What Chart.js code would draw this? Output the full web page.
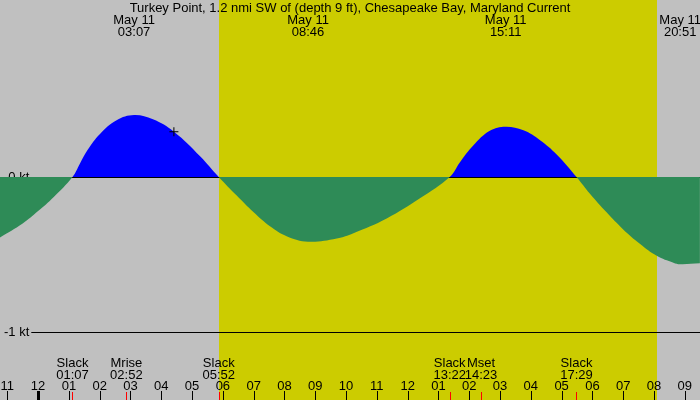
<!DOCTYPE html>
<html>
<head>
<meta charset="utf-8">
<script src="https://cdn.jsdelivr.net/npm/chart.js@4.4.1/dist/chart.umd.min.js"></script>
<style>
  html, body { margin: 0; padding: 0; background: #c0c0c0; }
  #wrap { width: 700px; height: 400px; }
</style>
</head>
<body>
<div id="wrap"><canvas id="currentChart"></canvas></div>
<script>
// ===================== Data =====================
const stationTitle = "Turkey Point, 1.2 nmi SW of (depth 9 ft), Chesapeake Bay, Maryland Current";

// hours after midnight May 11 (negative = evening of May 10)
const sampleHours = [-1.24, -0.5, 0.0, 0.5, 1.117, 1.36, 1.6, 2.01, 2.55, 3.117, 3.73, 4.41, 5.26, 5.867,
  6.45, 7.0, 7.53, 8.07, 8.767, 9.7, 10.24, 11.32, 12.4, 13.367,
  13.7, 14.13, 14.67, 15.183, 15.76, 16.3, 16.84, 17.483,
  17.92, 18.46, 19.0, 19.55, 20.09, 20.63, 20.85, 21.49];
const sampleKnots = [-0.39, -0.30, -0.22, -0.13, 0, 0.088, 0.172, 0.278, 0.366, 0.40, 0.372, 0.292, 0.134, 0,
  -0.12, -0.228, -0.318, -0.382, -0.417, -0.396, -0.362, -0.267, -0.137, 0,
  0.095, 0.203, 0.298, 0.325, 0.301, 0.237, 0.145, 0,
  -0.108, -0.228, -0.338, -0.432, -0.508, -0.553, -0.563, -0.557];

const extremeDate = "May 11";
const extremeTimes = ["03:07", "08:46", "15:11", "20:51"];

const eventNames = ["Slack", "Mrise", "Slack", "Slack", "Mset", "Slack"];
const eventTimes = ["01:07", "02:52", "05:52", "13:22", "14:23", "17:29"];

const sunRise = "05:52";
const sunSet = "20:06";

const markerHours = [4.41];
const markerKnots = [0.292];

const hourTicks = [-1, 0, 1, 2, 3, 4, 5, 6, 7, 8, 9, 10, 11, 12, 13, 14, 15, 16, 17, 18, 19, 20, 21];
const hourLabels = ["11", "12", "01", "02", "03", "04", "05", "06", "07", "08", "09", "10",
  "11", "12", "01", "02", "03", "04", "05", "06", "07", "08", "09"];

const knotTicks = [-1, 0];
const knotLabels = ["-1 kt", "0 kt"];

// ===================== Helpers =====================
const FONT = "13px 'Liberation Sans', Arial, sans-serif";

function toHours(hhmm) {
  const [h, m] = hhmm.split(":").map(Number);
  return h + m / 60;
}

// y axes must not steal room from the plot: it fills the whole canvas
function flatAxis(s) {
  s.width = 0;
  s.paddingTop = 0;
  s.paddingBottom = 0;
  s.paddingLeft = 0;
  s.paddingRight = 0;
}

// ===================== Background + Labels Plugin =====================
const tidePlugin = {
  id: "tidePlugin",
  beforeDraw(chart) {
    const { ctx, width, height } = chart;
    const x = chart.scales.x;
    ctx.save();
    ctx.fillStyle = "#c0c0c0";
    ctx.fillRect(0, 0, width, height);
    const x0 = Math.round(x.getPixelForValue(toHours(sunRise)));
    const x1 = Math.round(x.getPixelForValue(toHours(sunSet)));
    ctx.fillStyle = "#cccc00";
    ctx.fillRect(x0, 0, x1 - x0, height);
    ctx.restore();
  },
  afterDraw(chart) {
    const { ctx, width } = chart;
    const x = chart.scales.x;
    ctx.save();
    ctx.font = FONT;
    ctx.fillStyle = "#000";
    ctx.textAlign = "center";
    ctx.textBaseline = "alphabetic";

    ctx.fillText(stationTitle, width / 2, 12);

    extremeTimes.forEach((t) => {
      const px = x.getPixelForValue(toHours(t));
      ctx.fillText(extremeDate, px, 24);
      ctx.fillText(t, px, 36);
    });

    eventTimes.forEach((t, i) => {
      const px = x.getPixelForValue(toHours(t));
      ctx.fillText(eventNames[i], px, 367);
      ctx.fillText(t, px, 378.5);
      ctx.fillStyle = "#ff0000";
      ctx.fillRect(Math.round(px), 392, 1, 8);
      ctx.fillStyle = "#000";
    });

    hourTicks.forEach((h, i) => {
      const px = x.getPixelForValue(h);
      ctx.fillText(hourLabels[i], px, 390);
      const w = h === 0 ? 3 : 1;
      ctx.fillRect(Math.round(px) - (w - 1) / 2, 391, w, 9);
    });
    ctx.restore();
  }
};

// ===================== Chart Setup =====================
Chart.defaults.font.family = "'Liberation Sans', Arial, sans-serif";
Chart.defaults.font.size = 13;
Chart.defaults.color = "#000";

const currentPoints = sampleHours.map((h, i) => ({ x: h, y: sampleKnots[i] }));
const markerPoints = markerHours.map((h, i) => ({ x: h, y: markerKnots[i] }));

const ctx = document.getElementById("currentChart").getContext("2d");
new Chart(ctx, {
  type: "line",
  data: {
    datasets: [
      {
        label: "now",
        data: markerPoints,
        showLine: false,
        pointStyle: "cross",
        pointRadius: 4.5,
        borderColor: "#000",
        borderWidth: 1,
        order: 0,
      },
      {
        label: "Current (kt)",
        data: currentPoints,
        borderWidth: 0,
        pointRadius: 0,
        tension: 0.4,
        fill: { target: { value: 0 }, above: "#0000ff", below: "#2e8b57" },
        order: 1,
      },
    ],
  },
  options: {
    responsive: true,
    maintainAspectRatio: false,
    animation: false,
    events: [],
    layout: { padding: 0, autoPadding: false },
    plugins: { legend: { display: false }, tooltip: { enabled: false } },
    scales: {
      x: {
        type: "linear",
        display: false,
        min: -1.237,
        max: 21.494,
      },
      y: {
        min: -1.4385,
        max: 1.142,
        border: { display: false },
        grid: { color: "#000", lineWidth: 1, drawTicks: false },
        ticks: { display: false },
        afterBuildTicks: (s) => { s.ticks = knotTicks.map((v) => ({ value: v })); },
        afterFit: flatAxis,
      },
      yLabels: {
        position: "left",
        min: -1.4385,
        max: 1.142,
        z: 1,
        border: { display: false },
        grid: { display: false, drawTicks: false },
        ticks: {
          mirror: true,
          crossAlign: "far",
          padding: 4,
          showLabelBackdrop: true,
          backdropColor: (c) => (c.tick && c.tick.value === -1 ? "#c0c0c0" : "rgba(0,0,0,0)"),
          backdropPadding: { left: 4, right: 2, top: 0, bottom: 0 },
          callback: (v) => knotLabels[knotTicks.indexOf(v)],
        },
        afterBuildTicks: (s) => { s.ticks = knotTicks.map((v) => ({ value: v })); },
        afterFit: flatAxis,
      },
    },
  },
  plugins: [tidePlugin],
});
</script>
</body>
</html>
